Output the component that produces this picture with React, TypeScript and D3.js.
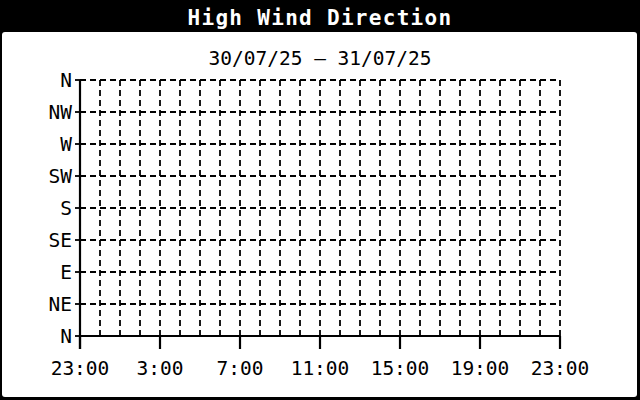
import React from "react";
import * as d3 from "d3";

const directions = ["N", "NE", "E", "SE", "S", "SW", "W", "NW", "N"];
const hourLabels = ["23:00", "3:00", "7:00", "11:00", "15:00", "19:00", "23:00"];
const hoursSpan = 24;
const title = "High Wind Direction";
const subtitle = "30/07/25 \u2013 31/07/25";

const W = 640, H = 400;
const plot = { left: 80, right: 560, top: 80, bottom: 336 };
const FONT = "'DejaVu Sans Mono', 'Liberation Mono', monospace";

export default function App() {
  const x = d3.scaleLinear().domain([0, hoursSpan]).range([plot.left, plot.right]);
  const y = d3.scaleLinear().domain([0, directions.length - 1]).range([plot.bottom, plot.top]);
  const hourTicks = d3.range(0, hoursSpan + 1);
  const majorTicks = d3.range(0, hoursSpan + 1, 4);
  const dirTicks = d3.range(0, directions.length);
  const dash = "6,4";
  return (
    <svg width={W} height={H} style={{ position: "absolute", left: 0, top: 0, background: "#000" }}>
      <rect x={0} y={0} width={W} height={H} fill="#000" />
      <rect x={2} y={32} width={635} height={365} rx={3} fill="#fff" />
      <text x={320} y={25} textAnchor="middle" fill="#fff" fontFamily={FONT} fontWeight="bold" fontSize={21} letterSpacing={1.3}>{title}</text>
      <text x={320} y={65} textAnchor="middle" fill="#000" fontFamily={FONT} fontSize={19.5}>{subtitle}</text>
      {hourTicks.filter(h => h > 0).map(h => (
        <line key={"v" + h} x1={x(h)} x2={x(h)} y1={plot.top} y2={plot.bottom} stroke="#000" strokeWidth={1.8} strokeDasharray={dash} />
      ))}
      {dirTicks.filter(i => i > 0).map(i => (
        <line key={"h" + i} x1={plot.left} x2={plot.right} y1={y(i)} y2={y(i)} stroke="#000" strokeWidth={1.8} strokeDasharray={dash} />
      ))}
      <line x1={plot.left} x2={plot.left} y1={plot.top} y2={plot.bottom + 13} stroke="#000" strokeWidth={2.2} />
      <line x1={plot.left} x2={plot.right} y1={plot.bottom} y2={plot.bottom} stroke="#000" strokeWidth={2.2} />
      {majorTicks.map(h => (
        <line key={"t" + h} x1={x(h)} x2={x(h)} y1={plot.bottom} y2={plot.bottom + 13} stroke="#000" strokeWidth={2.2} />
      ))}
      {dirTicks.map(i => (
        <line key={"yt" + i} x1={plot.left - 5} x2={plot.left} y1={y(i)} y2={y(i)} stroke="#000" strokeWidth={1.8} />
      ))}
      {dirTicks.map(i => (
        <text key={"yl" + i} x={plot.left - 8} y={y(i)} dy="0.36em" textAnchor="end" fontFamily={FONT} fontSize={19.5} fill="#000">{directions[i]}</text>
      ))}
      {majorTicks.map((h, k) => (
        <text key={"xl" + h} x={x(h)} y={375} textAnchor="middle" fontFamily={FONT} fontSize={19.5} fill="#000">{hourLabels[k]}</text>
      ))}
    </svg>
  );
}
